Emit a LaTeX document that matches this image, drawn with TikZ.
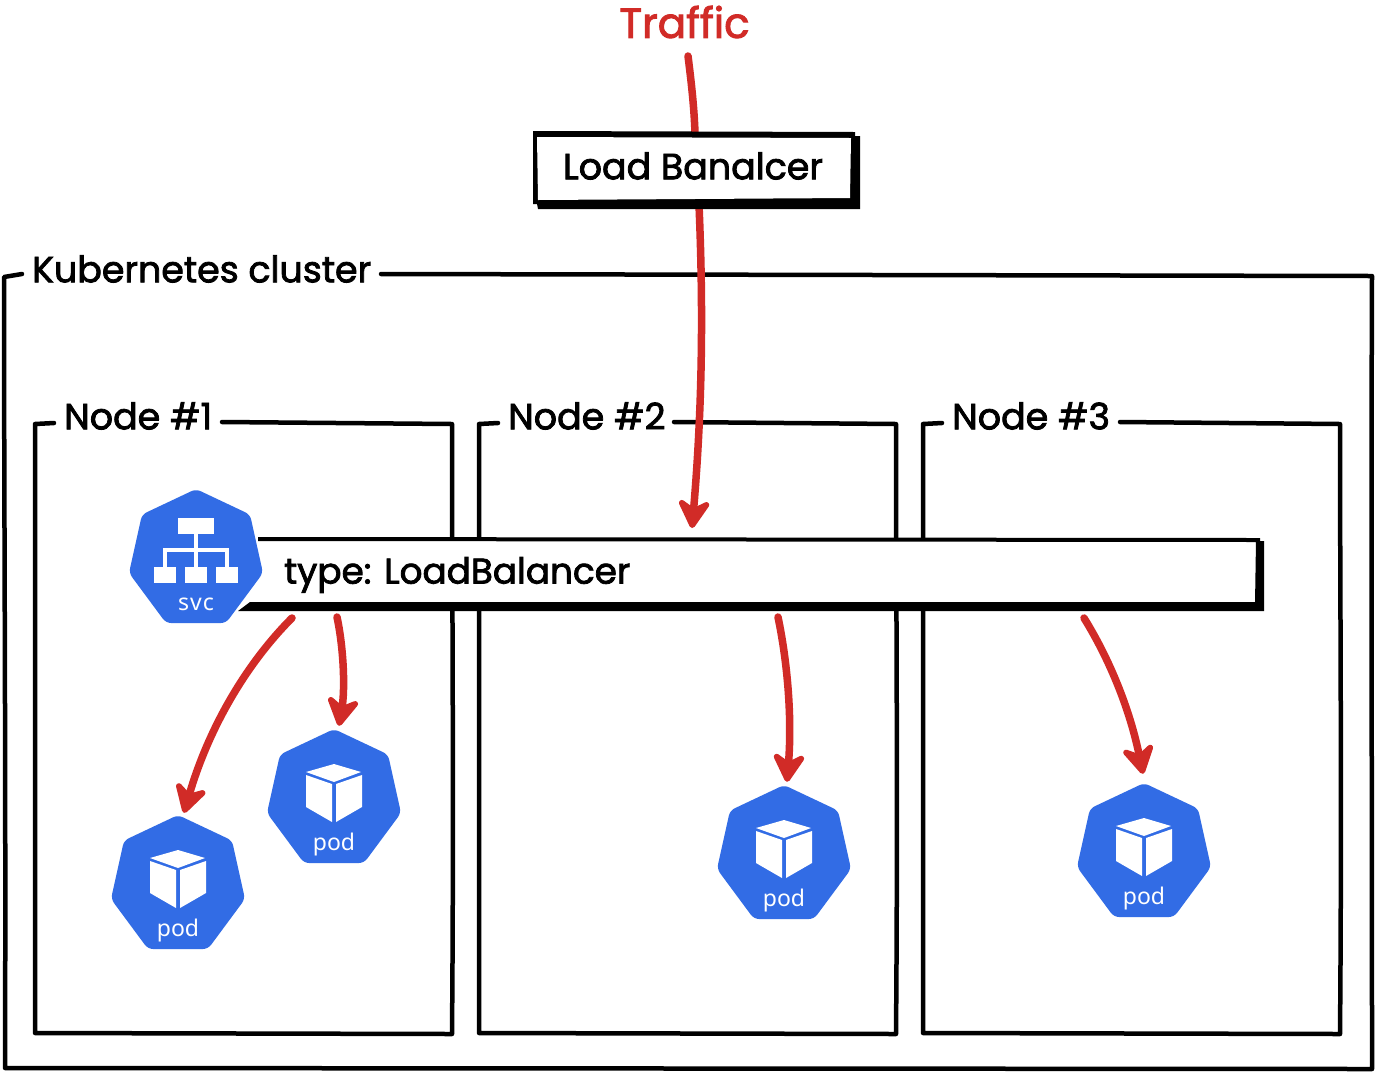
\documentclass[tikz,border=0pt]{standalone}
\usepackage{fontspec}
\setmainfont{Poppins}
\newfontfamily\iconfont{Noto Sans}
\newfontfamily\handfont{Poppins}[FakeBold=2.2]
\usetikzlibrary{arrows.meta}
\definecolor{kblue}{HTML}{326CE5}
\definecolor{kred}{HTML}{D12B27}
\tikzset{
  sketch/.style={draw=black,line width=4.5pt,line cap=round,line join=round},
  flow/.style={draw=kred,line width=7.5pt,line cap=round,-{Stealth[length=35pt,width=40pt,inset=12pt,round]}},
  flowplain/.style={draw=kred,line width=7.5pt,line cap=round},
  lab/.style={inner sep=0pt,text=black,font=\handfont\fontsize{36.4}{40}\selectfont},
  hexanchor/.style={circle,minimum size=132pt,inner sep=0pt},
  iconlab/.style={inner sep=0pt,text=white,font=\iconfont\fontsize{23}{28}\selectfont},
}
\newcommand{\hept}{\fill[kblue,rounded corners=5pt] (0,-67)--(54,-41.5)--(67,17)--(30,67)--(-30,67)--(-67,17)--(-54,-41.5)--cycle;}
\newcommand{\podicon}[3]{%
  \node[hexanchor] (#1) at (#2,#3) {};
  \begin{scope}[shift={(#2,#3)}]
    \hept
    \fill[white] (0,-32)--(27,-24)--(0,-14)--(-28,-24)--cycle;
    \fill[white] (-28,-21)--(-2,-12)--(-2,26)--(-28,11)--cycle;
    \fill[white] (28,-21)--(2,-12)--(2,26)--(28,11)--cycle;
  \end{scope}
  \node[iconlab] (#1lab) at (#2,#3+49) {pod};
}
\begin{document}
\begin{tikzpicture}[x=1pt,y=-1pt]
\useasboundingbox (0,0) rectangle (1376,1072);
\fill[white] (0,0) rectangle (1376,1072);

% cluster frame
\draw[sketch] (22,274) -- (4,277) .. controls (4,500) and (6,800) .. (5,1068)
  -- (1372,1069) .. controls (1372,800) and (1371,500) .. (1372,276) -- (381,274);
\node[lab,anchor=west] (cluster) at (32,269) {Kubernetes cluster};

% node frames
\draw[sketch] (54,423) -- (35,424) -- (35,1033) -- (452,1034) .. controls (454,800) and (452,600) .. (452,424) -- (222,422);
\node[lab,anchor=west] (n1) at (64,416) {Node \#1};
\draw[sketch] (498,423) -- (479,424) -- (479,1033) -- (896,1034) .. controls (898,800) and (896,600) .. (896,424) -- (674,422);
\node[lab,anchor=west] (n2) at (508,416) {Node \#2};
\draw[sketch] (942,423) -- (923,424) -- (923,1033) -- (1340,1034) .. controls (1342,800) and (1340,600) .. (1340,424) -- (1120,422);
\node[lab,anchor=west] (n3) at (952,416) {Node \#3};

% service bar
\fill[white] (240,538) rectangle (1263,610);
\fill[black] (1256,541) -- (1264,541) -- (1264,611) -- (238,611) -- (250,602) -- (1256,602) -- cycle;
\draw[draw=black,line width=4pt] (258,539) -- (1258,540) -- (1257,604);
\node[lab,anchor=west,font=\handfont\fontsize{35.8}{40}\selectfont] (type) at (284,575) {type: LoadBalancer};

% load balancer
\coordinate (trafficstart) at (688,56);
\coordinate (lbtop) at (695,133);
\coordinate (lbbottom) at (699,205);
\coordinate (barend) at (692,528);
\draw[flowplain] (trafficstart) .. controls (691,80) and (694,105) .. (lbtop);
\draw[flow] (lbbottom) .. controls (703,300) and (703,400) .. (barend);
\fill[black] (533,131) -- (855,132) -- (855,136) -- (860,136) -- (860,209) -- (538,209) -- (537,204) -- (533,204) -- cycle;
\fill[white] (537,137) -- (851,138) -- (850,198) -- (538,200) -- cycle;
\node[lab,anchor=center] (lb) at (693,166) {Load Banalcer};
\node[lab,text=kred,anchor=center,font=\handfont\fontsize{42}{46}\selectfont] (traffic) at (684.5,22) {Traffic};

% svc icon
\node[hexanchor] (svc) at (196,556) {};
\begin{scope}[shift={(196,556)}]
  \hept
  \fill[white] (-18,-38) rectangle (18,-22);
  \fill[white] (-42,11) rectangle (-20,27);
  \fill[white] (-11,11) rectangle (11,27);
  \fill[white] (20,11) rectangle (42,27);
  \draw[white,line width=3.4pt] (0,-22) -- (0,11);
  \draw[white,line width=3.4pt] (-31,11) -- (-31,-6) -- (31,-6) -- (31,11);
\end{scope}
\node[iconlab,font=\iconfont\fontsize{23}{26}\selectfont] (svclab) at (196,604) {s\kern1pt v\kern1pt c};

% pods
\podicon{pod1}{178}{882}
\podicon{pod2}{334}{796}
\podicon{pod3}{784}{852}
\podicon{pod4}{1144}{850}

% connectors
\coordinate (s1) at (292,618);
\coordinate (s2) at (337,617);
\coordinate (s3) at (778,617);
\coordinate (s4) at (1084,618);
\draw[flow] (s1) .. controls (245,665) and (208,730) .. ([shift={(6,-3)}]pod1.north);
\draw[flow] (s2) .. controls (344,650) and (345,690) .. ([shift={(5,-4)}]pod2.north);
\draw[flow] (s3) .. controls (788,665) and (792,720) .. ([shift={(3,-4)}]pod3.north);
\draw[flow] (s4) .. controls (1110,660) and (1130,710) .. ([shift={(-1,-10)}]pod4.north);
\end{tikzpicture}
\end{document}
